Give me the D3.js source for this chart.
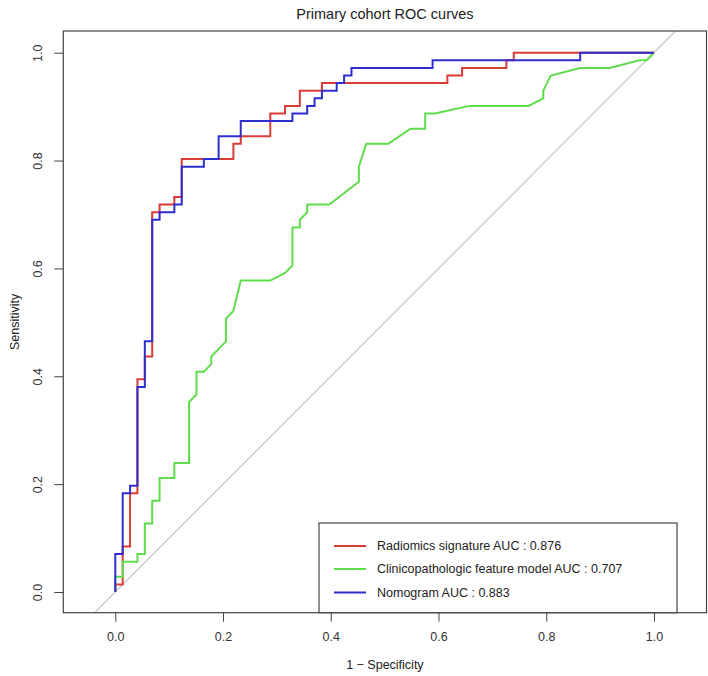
<!DOCTYPE html>
<html>
<head>
<meta charset="utf-8">
<script src="https://cdn.jsdelivr.net/npm/d3@7"></script>
<style>
  html, body { margin: 0; padding: 0; background: #fff; }
  svg { display: block; font-family: "Liberation Sans", Arial, Helvetica, sans-serif; }
</style>
</head>
<body>
<svg id="chart" width="708" height="676"></svg>
<script>
// ---- Data (1 - specificity, sensitivity) ----
const title = "Primary cohort ROC curves";
const xLabel = "1 \u2212 Specificity";
const yLabel = "Sensitivity";
const tickValues = [0, 0.2, 0.4, 0.6, 0.8, 1.0];
const tickLabels = ["0.0", "0.2", "0.4", "0.6", "0.8", "1.0"];

const seriesNames = [
  "Radiomics signature AUC : 0.876",
  "Clinicopathologic feature model AUC : 0.707",
  "Nomogram AUC : 0.883"
];
const seriesColors = ["#db3b36", "#5fdc4c", "#2e2ecf"];

const radiomicsFpr = [0, 0, 0.0137, 0.0137, 0.0274, 0.0274, 0.0411, 0.0411, 0.0548, 0.0548, 0.0685, 0.0685, 0.0822, 0.0822, 0.1096, 0.1096, 0.1233, 0.1233, 0.2192, 0.2192, 0.2329, 0.2329, 0.2877, 0.2877, 0.3151, 0.3151, 0.3425, 0.3425, 0.3836, 0.3836, 0.6164, 0.6164, 0.6438, 0.6438, 0.7260, 0.7260, 0.7397, 0.7397, 1];
const radiomicsTpr = [0, 0.0141, 0.0141, 0.0845, 0.0845, 0.1831, 0.1831, 0.3944, 0.3944, 0.4366, 0.4366, 0.7042, 0.7042, 0.7183, 0.7183, 0.7324, 0.7324, 0.8028, 0.8028, 0.8310, 0.8310, 0.8451, 0.8451, 0.8873, 0.8873, 0.9014, 0.9014, 0.9296, 0.9296, 0.9437, 0.9437, 0.9577, 0.9577, 0.9718, 0.9718, 0.9859, 0.9859, 1, 1];

const clinicalFpr = [0, 0, 0.0137, 0.0137, 0.0411, 0.0411, 0.0548, 0.0548, 0.0685, 0.0685, 0.0822, 0.0822, 0.1096, 0.1096, 0.1370, 0.1370, 0.1507, 0.1507, 0.1644, 0.1781, 0.1781, 0.2055, 0.2055, 0.2192, 0.2329, 0.2877, 0.3151, 0.3288, 0.3288, 0.3425, 0.3425, 0.3562, 0.3562, 0.3973, 0.4521, 0.4521, 0.4658, 0.5068, 0.5479, 0.5753, 0.5753, 0.5935, 0.6575, 0.7671, 0.7945, 0.7945, 0.8082, 0.8630, 0.9178, 0.9726, 0.9863, 1];
const clinicalTpr = [0, 0.0282, 0.0282, 0.0563, 0.0563, 0.0704, 0.0704, 0.1268, 0.1268, 0.1690, 0.1690, 0.2113, 0.2113, 0.2394, 0.2394, 0.3521, 0.3662, 0.4085, 0.4085, 0.4225, 0.4366, 0.4648, 0.5070, 0.5211, 0.5775, 0.5775, 0.5915, 0.6056, 0.6761, 0.6761, 0.6901, 0.7042, 0.7183, 0.7183, 0.7606, 0.7887, 0.8310, 0.8310, 0.8592, 0.8592, 0.8873, 0.8873, 0.9014, 0.9014, 0.9155, 0.9296, 0.9577, 0.9718, 0.9718, 0.9859, 0.9859, 1];

const nomogramFpr = [0, 0, 0.0137, 0.0137, 0.0274, 0.0274, 0.0411, 0.0411, 0.0548, 0.0548, 0.0685, 0.0685, 0.0822, 0.0822, 0.1096, 0.1096, 0.1233, 0.1233, 0.1644, 0.1644, 0.1918, 0.1918, 0.2329, 0.2329, 0.3288, 0.3288, 0.3562, 0.3562, 0.3699, 0.3699, 0.3836, 0.3836, 0.4110, 0.4110, 0.4247, 0.4247, 0.4384, 0.4384, 0.5890, 0.5890, 0.8630, 0.8630, 1];
const nomogramTpr = [0, 0.0704, 0.0704, 0.1831, 0.1831, 0.1972, 0.1972, 0.3803, 0.3803, 0.4648, 0.4648, 0.6901, 0.6901, 0.7042, 0.7042, 0.7183, 0.7183, 0.7887, 0.7887, 0.8028, 0.8028, 0.8451, 0.8451, 0.8732, 0.8732, 0.8873, 0.8873, 0.9014, 0.9014, 0.9155, 0.9155, 0.9296, 0.9296, 0.9437, 0.9437, 0.9577, 0.9577, 0.9718, 0.9718, 0.9859, 0.9859, 1, 1];

// ---- Layout ----
const svg = d3.select("#chart");
const box = { left: 63.3, right: 706.5, top: 31, bottom: 612.7 };

const x = d3.scaleLinear().domain([0, 1]).range([115.3, 654]);
const y = d3.scaleLinear().domain([0, 1]).range([592, 52.7]);

const xMin = x.invert(box.left), xMax = x.invert(box.right);
const yMin = y.invert(box.bottom), yMax = y.invert(box.top);

// clip path
svg.append("defs").append("clipPath").attr("id", "plotclip")
  .append("rect")
  .attr("x", box.left).attr("y", box.top)
  .attr("width", box.right - box.left).attr("height", box.bottom - box.top);

// diagonal reference line
const dLo = Math.max(xMin, yMin), dHi = Math.min(xMax, yMax);
svg.append("line")
  .attr("clip-path", "url(#plotclip)")
  .attr("x1", x(dLo)).attr("y1", y(dLo))
  .attr("x2", x(dHi)).attr("y2", y(dHi))
  .attr("stroke", "#c4c4c4").attr("stroke-width", 1.2);

// curves
const line = d3.line().x(d => x(d[0])).y(d => y(d[1]));
const series = [
  { fpr: radiomicsFpr, tpr: radiomicsTpr },
  { fpr: clinicalFpr, tpr: clinicalTpr },
  { fpr: nomogramFpr, tpr: nomogramTpr }
];
series.forEach((s, i) => {
  const pts = s.fpr.map((v, j) => [v, s.tpr[j]]);
  svg.append("path")
    .datum(pts)
    .attr("clip-path", "url(#plotclip)")
    .attr("d", line)
    .attr("fill", "none")
    .attr("stroke", seriesColors[i])
    .attr("stroke-width", 2)
    .attr("stroke-linejoin", "miter");
});

// axes
const xAxis = d3.axisBottom(x).tickValues(tickValues)
  .tickFormat((d, i) => tickLabels[i]).tickSize(9).tickPadding(10);
const gx = svg.append("g").attr("transform", `translate(0,${box.bottom})`).call(xAxis);
gx.select(".domain").remove();
gx.selectAll("line").attr("stroke", "#444");
gx.selectAll("text").attr("font-size", 12.5).attr("fill", "#333")
  .attr("font-family", "'Liberation Sans', Arial, sans-serif");

const yAxis = d3.axisLeft(y).tickValues(tickValues)
  .tickFormat((d, i) => tickLabels[i]).tickSize(9).tickPadding(10);
const gy = svg.append("g").attr("transform", `translate(${box.left},0)`).call(yAxis);
gy.select(".domain").remove();
gy.selectAll("line").attr("stroke", "#444");
gy.selectAll("text")
  .attr("font-size", 12.5).attr("fill", "#333")
  .attr("font-family", "'Liberation Sans', Arial, sans-serif")
  .attr("x", null).attr("dy", null)
  .attr("text-anchor", "middle")
  .attr("transform", "translate(-21,0) rotate(-90)")
  .attr("y", 0);

// plot box
svg.append("rect")
  .attr("x", box.left).attr("y", box.top)
  .attr("width", box.right - box.left).attr("height", box.bottom - box.top)
  .attr("fill", "none").attr("stroke", "#444").attr("stroke-width", 1.2);

// title & labels
svg.append("text").attr("x", (box.left + box.right) / 2).attr("y", 19)
  .attr("text-anchor", "middle").attr("font-size", 14.5).attr("fill", "#222")
  .text(title);
svg.append("text").attr("x", (box.left + box.right) / 2).attr("y", 669)
  .attr("text-anchor", "middle").attr("font-size", 12.5).attr("fill", "#222")
  .text(xLabel);
svg.append("text")
  .attr("transform", `translate(19,${(box.top + box.bottom) / 2}) rotate(-90)`)
  .attr("text-anchor", "middle").attr("font-size", 12.5).attr("fill", "#222")
  .text(yLabel);

// legend
const leg = { left: 319, right: 677, top: 523, bottom: box.bottom };
svg.append("rect")
  .attr("x", leg.left).attr("y", leg.top)
  .attr("width", leg.right - leg.left).attr("height", leg.bottom - leg.top)
  .attr("fill", "#fff").attr("stroke", "#444").attr("stroke-width", 1.2);
const rowY = [546, 569, 592.5];
seriesNames.forEach((name, i) => {
  svg.append("line")
    .attr("x1", 334).attr("x2", 366)
    .attr("y1", rowY[i]).attr("y2", rowY[i])
    .attr("stroke", seriesColors[i]).attr("stroke-width", 2);
  svg.append("text")
    .attr("x", 377).attr("y", rowY[i]).attr("dy", "0.35em")
    .attr("font-size", 12.5).attr("fill", "#222")
    .text(name);
});
</script>
</body>
</html>
